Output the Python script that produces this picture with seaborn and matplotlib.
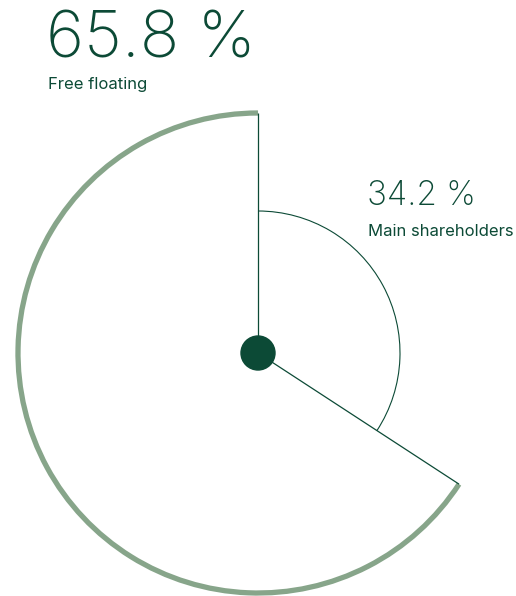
import matplotlib
matplotlib.use("Agg")
import matplotlib.pyplot as plt
from matplotlib.patches import Arc, Circle
import seaborn as sns
import numpy as np

# Data
labels = ["Free floating", "Main shareholders"]
shares = [65.8, 34.2]
value_texts = ["65.8 %", "34.2 %"]

sns.set_theme(style="white")
plt.rcParams['font.family'] = ['Inter', 'DejaVu Sans']

DARK = "#0c4a36"
SAGE = "#87a58a"

W, H = 516, 596
fig = plt.figure(figsize=(W / 100, H / 100), dpi=100)
ax = fig.add_axes([0, 0, 1, 1])
ax.set_xlim(0, W)
ax.set_ylim(0, H)
ax.set_aspect("equal")
ax.axis("off")

cx, cy = 258, H - 353
R_big, R_small = 240, 142

main_deg = 360 * shares[1] / 100.0
start = 90.0
end = start - main_deg  # clockwise from top

# free floating: thick outer arc
ax.add_patch(Arc((cx, cy), 2 * R_big, 2 * R_big, theta1=start, theta2=360 + end,
                 color=SAGE, lw=3.8, capstyle="butt"))
# main shareholders: thin inner arc
ax.add_patch(Arc((cx, cy), 2 * R_small, 2 * R_small, theta1=end, theta2=start,
                 color=DARK, lw=0.8))
for ang in (start, end):
    a = np.deg2rad(ang)
    ax.plot([cx, cx + R_big * np.cos(a)], [cy, cy + R_big * np.sin(a)],
            color=DARK, lw=0.9, solid_capstyle="butt")
ax.add_patch(Circle((cx, cy), 17, color=DARK, zorder=5))

ax.text(46, H - 58, value_texts[0], fontsize=47, fontweight=200, color=DARK,
        va="baseline", ha="left")
ax.text(48, H - 89, labels[0], fontsize=12, color=DARK, va="baseline", ha="left")
ax.text(367, H - 205, value_texts[1], fontsize=24, fontweight=200, color=DARK,
        va="baseline", ha="left")
ax.text(368, H - 236, labels[1], fontsize=12, color=DARK, va="baseline", ha="left")

fig.savefig("out.png", dpi=100)
